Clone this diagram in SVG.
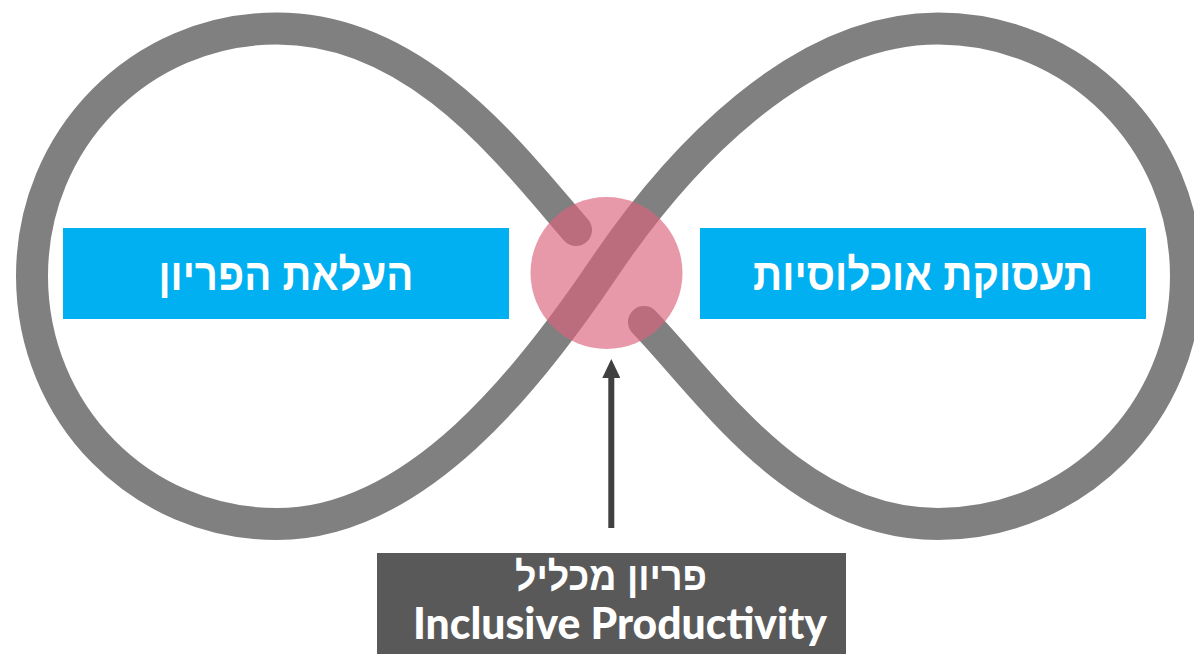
<svg xmlns="http://www.w3.org/2000/svg" width="1194" height="654" viewBox="0 0 1194 654">
  <style>
    .loop { fill: none; stroke: #808080; stroke-width: 32; stroke-linecap: round; stroke-linejoin: round; }
    .box { fill: #00B0F0; }
    .he { font-family: "Liberation Sans", "DejaVu Sans", sans-serif; font-weight: bold; fill: #FFFFFF; text-anchor: middle; }
    .en { font-family: "Lato", "Liberation Sans", sans-serif; font-weight: 900; fill: #FFFFFF; text-anchor: middle; }
  </style>
  <defs>
    <marker id="arrowhead" viewBox="0 0 19 18" refX="0" refY="9" markerWidth="19" markerHeight="18" markerUnits="userSpaceOnUse" orient="auto">
      <path d="M0,0 L19,9 L0,18 Z" fill="#404040"/>
    </marker>
  </defs>
  <rect width="1194" height="654" fill="#FFFFFF"/>

  <g id="infinity-loop">
    <path class="loop" d="M576,230 C510.5,154.4 417,28.5 277,28.5 C140,28.5 32,139.5 32,276 C32,413 140,524 277,524 C417,524 531.3,375.8 604,268 C676.7,160.2 798,28.5 938,28.5 C1075,28.5 1186,139.5 1186,276 C1186,413 1075,524 938,524 C798,524 713,394.4 644,322"/>
  </g>

  <g id="node-productivity">
    <rect class="box" x="63" y="228" width="446" height="91"/>
    <text class="he" x="286" y="290" font-size="44" textLength="255" lengthAdjust="spacingAndGlyphs">העלאת הפריון</text>
  </g>

  <g id="node-employment">
    <rect class="box" x="700" y="228" width="446" height="91"/>
    <text class="he" x="923" y="290" font-size="44" textLength="340" lengthAdjust="spacingAndGlyphs">תעסוקת אוכלוסיות</text>
  </g>

  <g id="node-intersection">
    <circle cx="606.5" cy="273" r="76" fill="#DC627B" fill-opacity="0.65"/>
  </g>

  <g id="connectors">
    <line x1="611.3" y1="528" x2="611.3" y2="378" stroke="#404040" stroke-width="6" marker-end="url(#arrowhead)"/>
  </g>

  <g id="node-inclusive">
    <rect x="377" y="553" width="469" height="110" fill="#595959"/>
    <text class="he" x="611" y="590" font-size="40" textLength="192" lengthAdjust="spacingAndGlyphs">פריון מכליל</text>
    <text class="en" x="620" y="639" font-size="43" textLength="414" lengthAdjust="spacingAndGlyphs">Inclusive Productivity</text>
  </g>
</svg>
